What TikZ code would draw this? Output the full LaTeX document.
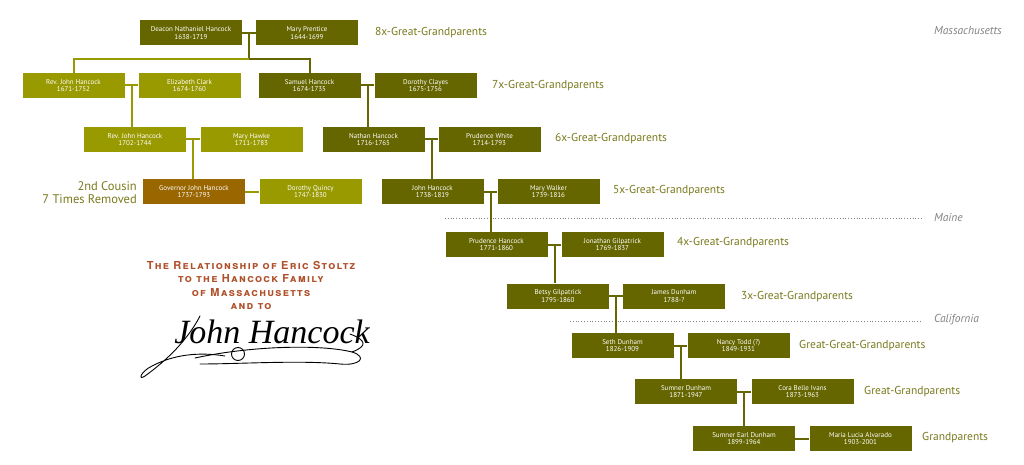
\documentclass[tikz,border=0pt]{standalone}
\usepackage{fontspec}
\setmainfont{PT Sans}
\newfontfamily\titlefont[LetterSpace=12]{TeX Gyre Heros}
\newfontfamily\signfont{Liberation Serif}
\usetikzlibrary{calc}
\definecolor{darkolive}{RGB}{102,102,0}
\definecolor{lightolive}{RGB}{153,153,0}
\definecolor{govbrown}{RGB}{153,102,0}
\definecolor{gentext}{RGB}{122,122,30}
\definecolor{titlered}{RGB}{176,80,42}
\definecolor{placegray}{RGB}{130,130,130}

\begin{document}
\begin{tikzpicture}[x=1pt,y=-1pt,
    person/.style={fill=darkolive, text=white, minimum width=102pt, minimum height=25pt,
      inner sep=0pt, align=center, font=\fontsize{7}{7.8}\selectfont},
    cousin/.style={person, fill=lightolive},
    governor/.style={person, fill=govbrown},
    gen/.style={anchor=west, inner sep=0pt, text=gentext, font=\fontsize{11.5}{13}\selectfont},
    place/.style={anchor=west, inner sep=0pt, text=placegray, font=\fontsize{11.5}{12}\selectfont\itshape},
    link/.style={draw=darkolive, line width=2pt},
    clink/.style={draw=lightolive, line width=2pt},
    border/.style={draw=placegray, dotted, line width=0.8pt},
    sig/.style={draw=black, line width=0.9pt, line cap=round}]
        \useasboundingbox[fill=white] (0,0) rectangle (1024,465);
        %People
        \node[person] (deacon) at (191,33) {Deacon Nathaniel Hancock\\1638-1719};
        \node[person] (prentice) at (307,33) {Mary Prentice\\1644-1699};
        \node[cousin] (johnA) at (73.5,85.5) {Rev. John Hancock\\1671-1752};
        \node[cousin] (clark) at (189.5,85.5) {Elizabeth Clark\\1674-1760};
        \node[person] (samuel) at (309.5,85.5) {Samuel Hancock\\1674-1735};
        \node[person] (clayes) at (425.5,85.5) {Dorothy Clayes\\1675-1756};
        \node[cousin] (johnB) at (135,139.5) {Rev. John Hancock\\1702-1744};
        \node[cousin] (hawke) at (251.5,139.5) {Mary Hawke\\1711-1783};
        \node[person] (nathan) at (373.5,139.5) {Nathan Hancock\\1716-1765};
        \node[person] (white) at (489.5,139.5) {Prudence White\\1714-1793};
        \node[governor] (governor) at (194,191.5) {Governor John Hancock\\1737-1793};
        \node[cousin] (quincy) at (310.5,191.5) {Dorothy Quincy\\1747-1830};
        \node[person] (johnC) at (432.5,191.5) {John Hancock\\1738-1819};
        \node[person] (walker) at (548.5,191.5) {Mary Walker\\1739-1816};
        \node[person] (prudence) at (496.5,244.5) {Prudence Hancock\\1771-1860};
        \node[person] (gilpatrick) at (612.5,244.5) {Jonathan Gilpatrick\\1769-1837};
        \node[person] (betsy) at (558,296) {Betsy Gilpatrick\\1795-1860};
        \node[person] (james) at (674,296) {James Dunham\\1788-?};
        \node[person] (seth) at (622.5,345.5) {Seth Dunham\\1826-1909};
        \node[person] (todd) at (738.5,345.5) {Nancy Todd (?)\\1849-1931};
        \node[person] (sumner) at (686,391.5) {Sumner Dunham\\1871-1947};
        \node[person] (ivans) at (802.5,391.5) {Cora Belle Ivans\\1873-1963};
        \node[person] (earl) at (744,438.5) {Sumner Earl Dunham\\1899-1964};
        \node[person] (alvarado) at (860.5,438.5) {Maria Lucia Alvarado\\1903-2001};
        %Generations
        \node[gen] (g8) at (375,33) {8x-Great-Grandparents};
        \node[gen] (g7) at (492,86) {7x-Great-Grandparents};
        \node[gen] (g6) at (555,139) {6x-Great-Grandparents};
        \node[gen] (g5) at (613,191) {5x-Great-Grandparents};
        \node[gen] (g4) at (677,243) {4x-Great-Grandparents};
        \node[gen] (g3) at (741,297) {3x-Great-Grandparents};
        \node[gen] (g2) at (799,346) {Great-Great-Grandparents};
        \node[gen] (g1) at (864,392) {Great-Grandparents};
        \node[gen] (g0) at (922,438) {Grandparents};
        \node[gen, anchor=east, align=right, font=\fontsize{12.5}{13.5}\selectfont] (removed) at (137,192.5) {2nd Cousin\\7 Times Removed};
        %Places
        \node[place] (mass) at (934,31) {Massachusetts};
        \node[place] (maine) at (934,217) {Maine};
        \node[place] (calif) at (934,320) {California};
        \coordinate (maineL) at (445,218);
        \coordinate (califL) at (570,321);
        \draw[border] (maineL) -- ($(maine.west)+(-12,1)$);
        \draw[border] (califL) -- ($(calif.west)+(-12,1)$);
        %Couples
        \draw[link] (deacon.east) -- (prentice.west);
        \draw[clink] (johnA.east) -- (clark.west);
        \draw[link] (samuel.east) -- (clayes.west);
        \draw[clink] (johnB.east) -- (hawke.west);
        \draw[link] (nathan.east) -- (white.west);
        \draw[clink] (governor.east) -- (quincy.west);
        \draw[link] (johnC.east) -- (walker.west);
        \draw[link] (prudence.east) -- (gilpatrick.west);
        \draw[link] (betsy.east) -- (james.west);
        \draw[link] (seth.east) -- (todd.west);
        \draw[link] (sumner.east) -- (ivans.west);
        \draw[link] (earl.east) -- (alvarado.west);
        %Children
        \coordinate (m8) at ($(deacon.east)!0.5!(prentice.west)$);
        \coordinate (bar) at ($(m8)+(0,26)$);
        \draw[link] (m8) -- (bar);
        \draw[link] (samuel.north) |- (bar);
        \draw[clink] (johnA.north) |- (bar);
        \coordinate (m7a) at ($(johnA.east)!0.5!(clark.west)$);
        \draw[clink] (m7a) -- (m7a |- johnB.north);
        \coordinate (m7b) at ($(samuel.east)!0.5!(clayes.west)$);
        \draw[link] (m7b) -- (m7b |- nathan.north);
        \coordinate (m6a) at ($(johnB.east)!0.5!(hawke.west)$);
        \draw[clink] (m6a) -- (m6a |- governor.north);
        \coordinate (m6b) at ($(nathan.east)!0.5!(white.west)$);
        \draw[link] (m6b) -- (m6b |- johnC.north);
        \coordinate (m5) at ($(johnC.east)!0.5!(walker.west)$);
        \draw[link] (m5) -- (m5 |- prudence.north);
        \coordinate (m4) at ($(prudence.east)!0.5!(gilpatrick.west)$);
        \draw[link] (m4) -- (m4 |- betsy.north);
        \coordinate (m3) at ($(betsy.east)!0.5!(james.west)$);
        \draw[link] (m3) -- (m3 |- seth.north);
        \coordinate (m2) at ($(seth.east)!0.5!(todd.west)$);
        \draw[link] (m2) -- (m2 |- sumner.north);
        \coordinate (m1) at ($(sumner.east)!0.5!(ivans.west)$);
        \draw[link] (m1) -- (m1 |- earl.north);
        %Title
        \node[align=center, text=titlered, font={\fontsize{11}{13.6}\titlefont\bfseries\scshape}] (title) at (251,285.5)
          {The Relationship of Eric Stoltz\\to the Hancock Family\\of Massachusetts\\and to};
        \node[anchor=base, font={\fontsize{34}{34}\signfont\itshape}] (sign) at (272,343) {John Hancock};
        %Flourish
        \draw[sig] (200,316) .. controls (185,345) and (160,365) .. (145,376) .. controls (138,381) and (140,372) .. (152,366) .. controls (175,354) and (200,352) .. (225,356);
        \draw[sig] (195,358) .. controls (250,346) and (320,344) .. (352,352) .. controls (368,357) and (360,366) .. (340,364) .. controls (300,360) and (240,364) .. (200,364);
        \draw[sig] (350,334) .. controls (366,340) and (368,346) .. (352,352);
        \draw[sig] (238,354) circle (6.5);
      \end{tikzpicture}
\end{document}
